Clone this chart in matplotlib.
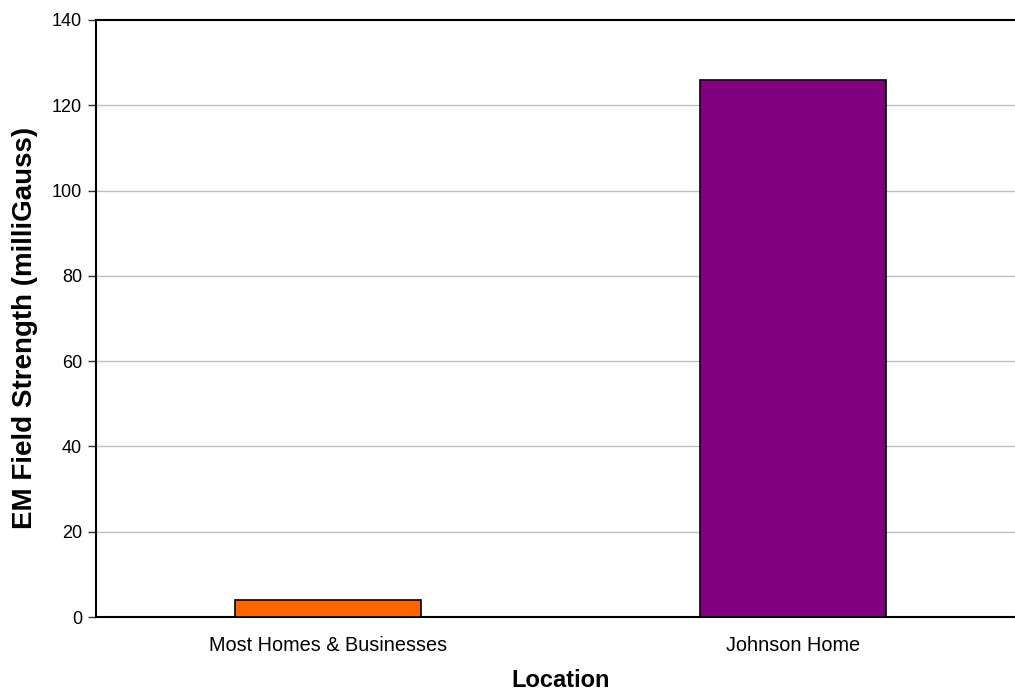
import matplotlib
matplotlib.use("Agg")
import matplotlib.pyplot as plt

categories = ["Most Homes & Businesses", "Johnson Home"]
values = [4, 126]
colors = ["#FF6600", "#800080"]
yticks = [0, 20, 40, 60, 80, 100, 120, 140]

plt.rcParams['font.family'] = ['Liberation Sans', 'DejaVu Sans']

fig = plt.figure(figsize=(10.15, 6.94), dpi=100)
W, H = 1015, 694
left, right, top, bottom = 96, 1025, 20, 617
ax = fig.add_axes([left / W, 1 - bottom / H, (right - left) / W, (bottom - top) / H])

x = list(range(len(categories)))
ax.bar(x, values, width=0.4, color=colors, edgecolor="black", linewidth=1.2, zorder=3)
ax.set_xlim(-0.5, len(categories) - 0.5)
ax.set_ylim(0, 140)
ax.set_yticks(yticks)
ax.set_yticklabels([str(t) for t in yticks], fontsize=13)
ax.set_xticks(x)
ax.set_xticklabels(categories, fontsize=14.3)
ax.tick_params(axis='x', length=0, pad=14)
ax.tick_params(axis='y', length=6, width=1, direction='out', pad=4, color='#333333')
for t in yticks[1:-1]:
    ax.axhline(t, color="#C0C0C0", linewidth=1, zorder=1)
for s in ['left', 'bottom', 'top']:
    ax.spines[s].set_linewidth(1.5)
    ax.spines[s].set_color('black')
ax.spines['right'].set_visible(False)
ax.set_xlabel("Location", fontsize=17, fontweight='bold', labelpad=10)
ax.set_ylabel("EM Field Strength (milliGauss)", fontsize=20, fontweight='bold', labelpad=10)
ax.yaxis.set_label_coords(-0.0624, 0.484)

fig.savefig("out.png", dpi=100)
